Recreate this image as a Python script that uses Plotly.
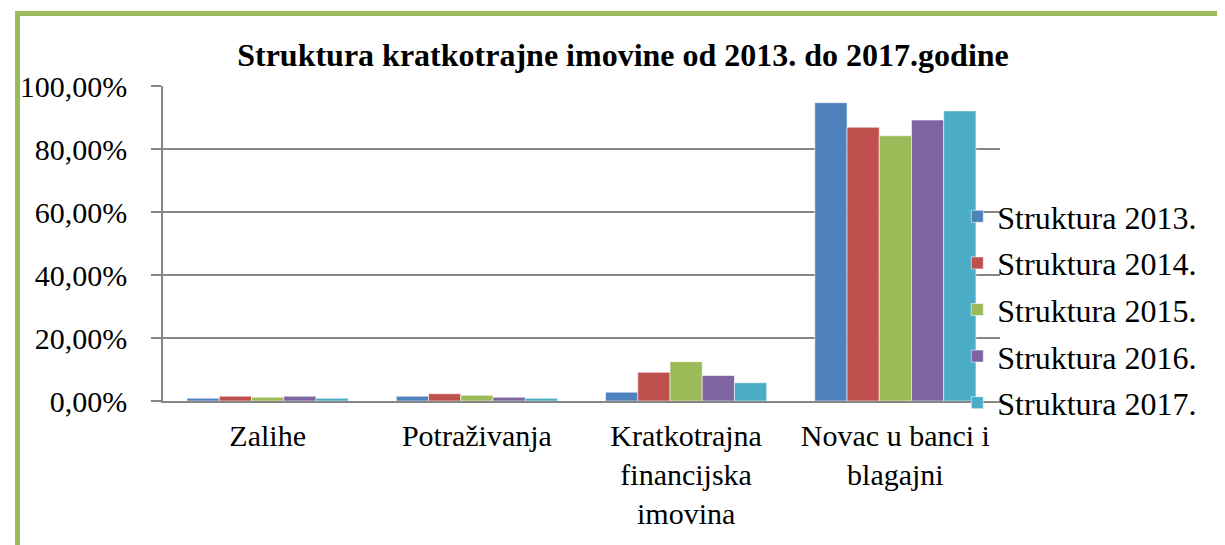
import plotly.graph_objects as go

categories = ["Zalihe", "Potraživanja", "Kratkotrajna<br>financijska<br>imovina", "Novac u banci i<br>blagajni"]
series_names = ["Struktura 2013.", "Struktura 2014.", "Struktura 2015.", "Struktura 2016.", "Struktura 2017."]
s2013 = [0.85, 1.5, 2.8, 94.7]
s2014 = [1.5, 2.3, 9.1, 86.9]
s2015 = [1.2, 1.8, 12.5, 84.2]
s2016 = [1.5, 1.2, 8.1, 89.2]
s2017 = [0.85, 0.85, 5.8, 92.1]
colors = ["#4F81BD", "#C0504D", "#9BBB59", "#8064A2", "#4BACC6"]
y_ticks = [0, 20, 40, 60, 80, 100]
y_tick_text = [f"{v:.2f}".replace(".", ",") + "%" for v in y_ticks]

FONT = "Liberation Serif, Times New Roman, serif"

fig = go.Figure()
for i, (name, vals) in enumerate(zip(series_names, [s2013, s2014, s2015, s2016, s2017])):
    fig.add_trace(go.Bar(
        x=categories, y=vals, name=name, legendgroup=name,
        marker=dict(color=colors[i], line=dict(color="rgba(255,255,255,0.55)", width=1)),
    ))

# page body has an 8px margin; work in screen coordinates and subtract it
OFF = 8
W, H = 1225 - OFF, 545 - OFF
L, R, T, B = 157 - OFF, 225, 86 - OFF, 144
pw = W - L - R
ph = H - T - B

def px_x(x):
    return (x - OFF - L) / pw

def px_y(y):
    return 1 - (y - OFF - T) / ph

fig.update_layout(
    width=W, height=H,
    margin=dict(l=L, r=R, t=T, b=B),
    paper_bgcolor="white", plot_bgcolor="white",
    font=dict(family=FONT, size=30, color="black"),
    barmode="group", bargap=0.23, bargroupgap=0,
    title=dict(text="<b>Struktura kratkotrajne imovine od 2013. do 2017.godine</b>",
               x=(623 - OFF) / W, xanchor="center", xref="container",
               y=1 - (55 - OFF) / H, yanchor="middle", yref="container",
               font=dict(family=FONT, size=32, color="black")),
    legend=dict(x=px_x(957), xanchor="left", y=px_y(189), yanchor="top",
                font=dict(family=FONT, size=32, color="black"),
                tracegroupgap=2, bgcolor="rgba(0,0,0,0)", itemwidth=30),
    xaxis=dict(showline=True, linecolor="#868686", linewidth=2, ticks="",
               showgrid=False, ticklabelstandoff=7,
               tickfont=dict(family=FONT, size=30, color="black")),
    yaxis=dict(range=[0, 100], tickvals=y_ticks, ticktext=y_tick_text,
               showgrid=True, gridcolor="#868686", gridwidth=1.5,
               showline=True, linecolor="#868686", linewidth=1.5,
               ticks="outside", ticklen=10, tickcolor="#868686", tickwidth=1.5,
               ticklabelstandoff=18,
               tickfont=dict(family=FONT, size=30, color="black"), zeroline=False),
    shapes=[dict(type="rect", xref="paper", yref="paper",
                 x0=px_x(10.5), x1=px_x(1260), y0=px_y(580), y1=px_y(13.5),
                 line=dict(color="#9BBB59", width=5), fillcolor="rgba(0,0,0,0)", layer="below")],
)

fig.write_html("out.html")
